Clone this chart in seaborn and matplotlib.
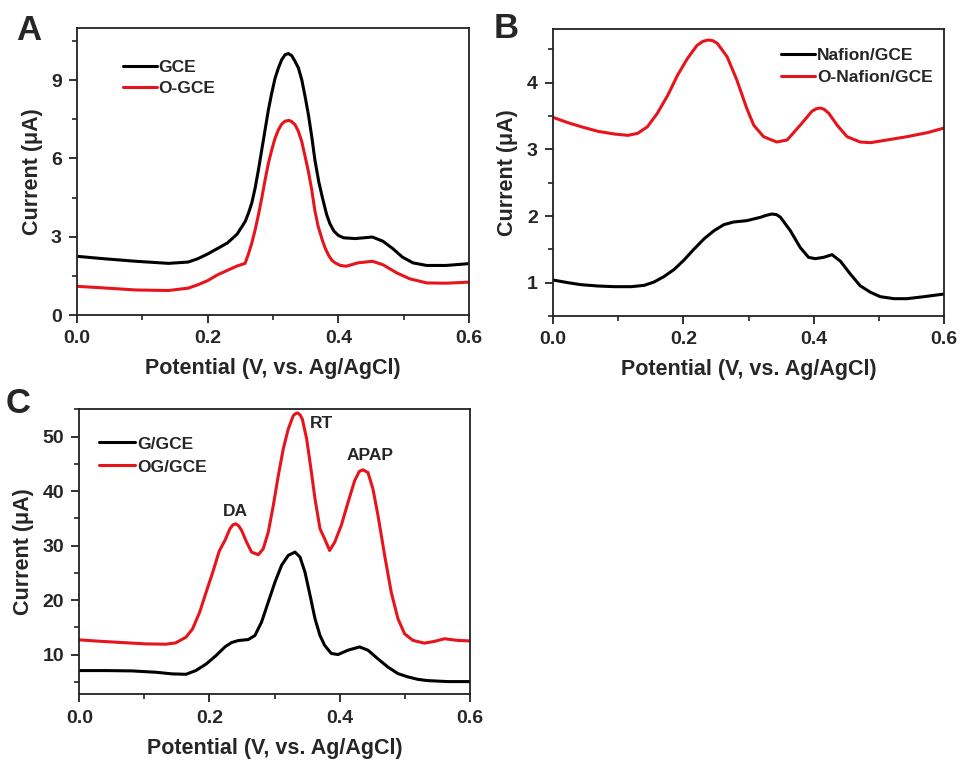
import numpy as np
import pandas as pd
import matplotlib
matplotlib.use("Agg")
import matplotlib.pyplot as plt
from matplotlib.ticker import MultipleLocator, FormatStrFormatter
import seaborn as sns

# ---------------- data ----------------
# Panel A
a_gce_x = [0, 0.04, 0.09, 0.14, 0.17, 0.185, 0.2, 0.215, 0.23, 0.245, 0.2572, 0.2623, 0.2674, 0.2725,
           0.2776, 0.2827, 0.2878, 0.2929, 0.298, 0.3031, 0.3082, 0.3133, 0.3184, 0.3235, 0.3286, 0.3337,
           0.3388, 0.3439, 0.349, 0.3541, 0.3592, 0.364, 0.37, 0.376, 0.382, 0.387, 0.393, 0.40, 0.408,
           0.426, 0.452, 0.468, 0.483, 0.498, 0.514, 0.535, 0.565, 0.6]
a_gce_y = [2.25, 2.16, 2.06, 1.98, 2.03, 2.16, 2.34, 2.55, 2.76, 3.1, 3.58, 3.90, 4.29, 4.86,
           5.56, 6.33, 7.10, 7.87, 8.51, 9.08, 9.47, 9.79, 9.98, 10.02, 9.94, 9.72,
           9.47, 9.02, 8.38, 7.68, 6.84, 5.95, 5.1, 4.45, 3.85, 3.5, 3.22, 3.05, 2.96,
           2.93, 2.99, 2.83, 2.55, 2.22, 2.0, 1.90, 1.90, 1.97]
a_ogce_x = [0, 0.04, 0.09, 0.14, 0.17, 0.185, 0.2, 0.215, 0.23, 0.245, 0.2572, 0.2623, 0.2674, 0.2725,
            0.2776, 0.2827, 0.2878, 0.2929, 0.298, 0.3031, 0.3082, 0.3133, 0.3184, 0.3245, 0.3286, 0.3337,
            0.3388, 0.3439, 0.349, 0.3541, 0.3592, 0.364, 0.369, 0.375, 0.38, 0.385, 0.39, 0.395, 0.403,
            0.412, 0.43, 0.452, 0.468, 0.489, 0.509, 0.535, 0.565, 0.6]
a_ogce_y = [1.10, 1.04, 0.96, 0.94, 1.03, 1.16, 1.32, 1.54, 1.71, 1.88, 1.98, 2.34, 2.75, 3.26,
            3.84, 4.48, 5.18, 5.82, 6.33, 6.78, 7.10, 7.32, 7.43, 7.46, 7.41, 7.29,
            7.04, 6.65, 6.08, 5.50, 4.80, 4.0, 3.4, 2.9, 2.55, 2.29, 2.1, 2.0, 1.9,
            1.87, 2.0, 2.06, 1.93, 1.62, 1.39, 1.23, 1.22, 1.26]

# Panel B
b_naf_x = [0, 0.023, 0.043, 0.069, 0.094, 0.12, 0.14, 0.155, 0.17, 0.186, 0.201, 0.216, 0.232, 0.247,
           0.262, 0.277, 0.297, 0.318, 0.327, 0.336, 0.343, 0.349, 0.364, 0.379, 0.392, 0.402, 0.415,
           0.428, 0.441, 0.456, 0.471, 0.487, 0.502, 0.523, 0.543, 0.569, 0.6]
b_naf_y = [1.04, 1.0, 0.97, 0.95, 0.94, 0.94, 0.96, 1.01, 1.09, 1.2, 1.34, 1.5, 1.66, 1.78,
           1.87, 1.91, 1.93, 1.98, 2.01, 2.03, 2.02, 1.98, 1.78, 1.53, 1.38, 1.36, 1.38,
           1.42, 1.32, 1.13, 0.955, 0.855, 0.79, 0.76, 0.76, 0.79, 0.83]
b_onaf_x = [0, 0.023, 0.043, 0.069, 0.094, 0.115, 0.13, 0.145, 0.16, 0.176, 0.191, 0.206, 0.221, 0.23,
            0.238, 0.245, 0.252, 0.267, 0.282, 0.297, 0.308, 0.323, 0.343, 0.359, 0.379, 0.397, 0.404,
            0.41, 0.416, 0.423, 0.436, 0.451, 0.471, 0.487, 0.512, 0.543, 0.574, 0.6]
b_onaf_y = [3.48, 3.40, 3.34, 3.27, 3.23, 3.21, 3.24, 3.34, 3.54, 3.81, 4.11, 4.36, 4.56, 4.62,
            4.64, 4.63, 4.59, 4.39, 4.04, 3.62, 3.36, 3.19, 3.11, 3.14, 3.36, 3.57, 3.61,
            3.62, 3.60, 3.54, 3.36, 3.19, 3.11, 3.10, 3.14, 3.19, 3.25, 3.32]

# Panel C
c_g_x = [0, 0.04, 0.081, 0.118, 0.143, 0.164, 0.179, 0.195, 0.21, 0.2237, 0.2339, 0.2442, 0.2595, 0.2698,
         0.28, 0.2903, 0.3006, 0.3108, 0.321, 0.3313, 0.339, 0.3467, 0.3544, 0.362, 0.3697, 0.3768,
         0.387, 0.3973, 0.4127, 0.4305, 0.4434, 0.4588, 0.4741, 0.4895, 0.5048, 0.52, 0.535, 0.566, 0.6]
c_g_y = [7.06, 7.06, 7.0, 6.75, 6.45, 6.38, 7.06, 8.28, 9.8, 11.4, 12.2, 12.57, 12.75, 13.5,
         15.97, 19.64, 23.3, 26.4, 28.2, 28.8, 27.9, 25.1, 20.9, 16.6, 13.5, 11.7,
         10.2, 10.0, 10.8, 11.4, 10.8, 9.2, 7.7, 6.5, 5.9, 5.45, 5.22, 5.04, 5.04]
c_og_x = [0, 0.03, 0.066, 0.102, 0.133, 0.148, 0.164, 0.174, 0.185, 0.195, 0.205, 0.215, 0.2237, 0.2314,
          0.236, 0.2401, 0.245, 0.2493, 0.257, 0.2647, 0.275, 0.2826, 0.2903, 0.298, 0.3057, 0.3133,
          0.321, 0.3287, 0.332, 0.3354, 0.339, 0.3425, 0.3492, 0.3558, 0.362, 0.3697, 0.3768, 0.3845,
          0.3922, 0.4024, 0.4127, 0.4229, 0.43, 0.4357, 0.4434, 0.451, 0.4588, 0.469, 0.4792, 0.4895,
          0.4997, 0.5125, 0.53, 0.545, 0.561, 0.581, 0.6]
c_og_y = [12.70, 12.45, 12.2, 11.96, 11.9, 12.14, 13.2, 14.7, 17.8, 21.5, 25.1, 29.0, 30.94, 33.09,
          33.8, 34.0, 33.6, 32.78, 30.63, 28.8, 28.32, 29.42, 32.47, 37.36, 42.85, 47.75,
          51.4, 53.85, 54.2, 54.34, 54.0, 53.24, 49.6, 44.1, 38.6, 33.1, 31.25, 29.1,
          30.6, 33.7, 37.9, 41.9, 43.6, 43.9, 43.4, 40.4, 35.5, 28.2, 21.4, 16.55,
          13.8, 12.6, 12.1, 12.4, 12.9, 12.6, 12.5]

peak_labels = ["DA", "RT", "APAP"]
peak_label_x = [0.24, 0.372, 0.446]
peak_label_y = [36.3, 52.4, 46.5]

# ---------------- style ----------------
sns.set_theme(style="ticks")
plt.rcParams['font.family'] = ['Liberation Sans', 'DejaVu Sans']
plt.rcParams['font.weight'] = 'bold'
plt.rcParams['axes.labelweight'] = 'bold'

BLACK = "#000000"
RED = "#e8141c"
LW = 2.2

fig = plt.figure(figsize=(9.63, 7.6), dpi=100)
axA = fig.add_axes([0.0800, 0.5855, 0.4071, 0.3776])
axB = fig.add_axes([0.5742, 0.5842, 0.4063, 0.3772])
axC = fig.add_axes([0.0823, 0.0864, 0.4057, 0.3750])


def draw(ax, xs1, ys1, lab1, xs2, ys2, lab2):
    d1 = pd.DataFrame({"x": xs1, "y": ys1})
    d2 = pd.DataFrame({"x": xs2, "y": ys2})
    sns.lineplot(data=d1, x="x", y="y", ax=ax, color=BLACK, lw=LW, estimator=None, label=lab1)
    sns.lineplot(data=d2, x="x", y="y", ax=ax, color=RED, lw=LW, estimator=None, label=lab2)
    for ln in ax.get_lines():
        ln.set_solid_joinstyle("round")
        ln.set_solid_capstyle("round")


def style(ax, ylim, ymaj, ymin, yfmt):
    ax.set_xlim(0, 0.6)
    ax.set_ylim(*ylim)
    ax.xaxis.set_major_locator(MultipleLocator(0.2))
    ax.xaxis.set_minor_locator(MultipleLocator(0.1))
    ax.xaxis.set_major_formatter(FormatStrFormatter("%.1f"))
    ax.yaxis.set_major_locator(MultipleLocator(ymaj))
    ax.yaxis.set_minor_locator(MultipleLocator(ymin))
    ax.yaxis.set_major_formatter(FormatStrFormatter(yfmt))
    ax.tick_params(which="major", direction="out", length=6, width=1.3, labelsize=14, pad=5,
                   top=False, right=False, color="#222222")
    ax.tick_params(which="minor", direction="out", length=3.5, width=1.2, top=False, right=False,
                   color="#222222")
    for lbl in ax.get_xticklabels() + ax.get_yticklabels():
        lbl.set_fontweight("bold")
    for s in ax.spines.values():
        s.set_visible(True)
        s.set_linewidth(1.3)
        s.set_color("#222222")
    ax.set_xlabel("Potential (V, vs. Ag/AgCl)", fontsize=15.5, fontweight="bold", labelpad=8)
    ax.set_ylabel("Current (\u03bcA)", fontsize=15.5, fontweight="bold", labelpad=6)


LEG = dict(frameon=False, handletextpad=0.1, borderpad=0, borderaxespad=0,
           prop={"weight": "bold", "size": 12.5})

draw(axA, a_gce_x, a_gce_y, "GCE", a_ogce_x, a_ogce_y, "O-GCE")
style(axA, (0, 11), 3, 1.5, "%d")
axA.legend(loc="upper left", bbox_to_anchor=(0.117, 0.89), handlelength=1.96, labelspacing=0.36, **LEG)

draw(axB, b_naf_x, b_naf_y, "Nafion/GCE", b_onaf_x, b_onaf_y, "O-Nafion/GCE")
style(axB, (0.5, 4.8), 1, 0.5, "%d")
axB.legend(loc="upper right", bbox_to_anchor=(0.97, 0.936), handlelength=1.96, labelspacing=0.42, **LEG)

draw(axC, c_g_x, c_g_y, "G/GCE", c_og_x, c_og_y, "OG/GCE")
style(axC, (2.7, 55), 10, 5, "%d")
axC.legend(loc="upper left", bbox_to_anchor=(0.05, 0.905), handlelength=2.1, labelspacing=0.45, **LEG)
for t, x, y in zip(peak_labels, peak_label_x, peak_label_y):
    axC.text(x, y, t, ha="center", va="center", fontsize=12.5, fontweight="bold")

fig.text(16 / 963, 1 - 31 / 760, "A", fontsize=25, fontweight="bold", va="center", ha="left")
fig.text(494 / 963, 1 - 29 / 760, "B", fontsize=25, fontweight="bold", va="center", ha="left")
fig.text(6 / 963, 1 - 403 / 760, "C", fontsize=25, fontweight="bold", va="center", ha="left")

fig.savefig("out.png", dpi=100)
